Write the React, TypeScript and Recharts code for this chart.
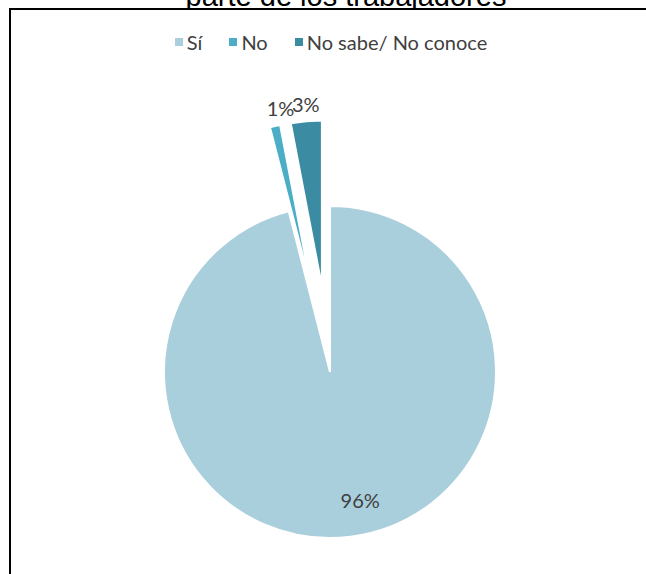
import React from "react";
import { PieChart, Pie, Cell, Legend } from "recharts";

// datos del gráfico
const categorias = ["Sí", "No", "No sabe/ No conoce"];
const valores = [96, 1, 3];
const colores = ["#AACFDC", "#4BADC6", "#3B8BA2"];
const separacion = [0, 86, 86];
const titulo = "parte de los trabajadores";

const datos = categorias.map((name, i) => ({ name, value: valores[i] }));
const total = valores.reduce((a, b) => a + b, 0);

const RAD = Math.PI / 180;
const CX = 330;
const CY = 372;
const R = 166;
const FUENTE = "Lato, 'Open Sans', sans-serif";
// ajuste fino de cada etiqueta (px)
const ajusteEtiqueta = [
  { x: 14, y: 0 },
  { x: 9, y: -2 },
  { x: 1, y: -1 },
];

// desplazamiento de cada porción separada, según su ángulo medio
function desplazamiento(i: number) {
  const antes = valores.slice(0, i).reduce((a, b) => a + b, 0);
  const medio = ((antes + valores[i] / 2) / total) * 360;
  return {
    dx: Math.sin(medio * RAD) * separacion[i],
    dy: -Math.cos(medio * RAD) * separacion[i],
  };
}

const renderEtiqueta = (idx: number) => (props: any) => {
  if (props.index !== idx) return null;
  const { cx, cy, midAngle, outerRadius, percent } = props;
  const dentro = separacion[idx] === 0;
  const r = dentro ? outerRadius * 0.78 : outerRadius + 16;
  const x = cx + r * Math.cos(-midAngle * RAD) + ajusteEtiqueta[idx].x;
  const y = cy + r * Math.sin(-midAngle * RAD) + ajusteEtiqueta[idx].y;
  return (
    <text
      x={x}
      y={y}
      fill="#404040"
      fontSize={20}
      fontFamily={FUENTE}
      textAnchor="middle"
      dominantBaseline="central"
    >
      {`${Math.round(percent * 100)}%`}
    </text>
  );
};

const renderLeyenda = (props: any) => {
  const vistos = new Set<string>();
  (props.payload || []).forEach((e: any) => vistos.add(e.value));
  const items = categorias.filter((c) => vistos.has(c));
  return (
    <div
      style={{
        display: "flex",
        justifyContent: "center",
        gap: 27,
        fontFamily: FUENTE,
        fontSize: 20,
        color: "#404040",
        whiteSpace: "nowrap",
      }}
    >
      {items.map((nombre) => {
        const i = categorias.indexOf(nombre);
        return (
          <div key={nombre} style={{ display: "flex", alignItems: "center" }}>
            <span style={{ display: "inline-block", width: 8, height: 8, background: colores[i], marginRight: 4 }} />
            <span>{nombre}</span>
          </div>
        );
      })}
    </div>
  );
};

export default function App() {
  return (
    <div style={{ position: "fixed", left: 0, top: 0, width: 646, height: 574, overflow: "hidden", background: "#fff" }}>
      <svg width={646} height={40} style={{ position: "absolute", left: 0, top: 0 }}>
        <text x={346} y={6} textAnchor="middle" fontSize={29} fontFamily="'Liberation Sans', Arial, sans-serif" fill="#000">
          {titulo}
        </text>
      </svg>
      <div
        style={{
          position: "absolute",
          left: 9,
          top: 8,
          width: 700,
          height: 700,
          borderLeft: "2px solid #000",
          borderTop: "2px solid #000",
          background: "#fff",
        }}
      />
      <div style={{ position: "absolute", left: 0, top: 0 }}>
        <PieChart width={646} height={574} margin={{ top: 0, right: 0, bottom: 0, left: 0 }}>
          <Legend
            verticalAlign="middle"
            align="center"
            layout="horizontal"
            content={renderLeyenda}
            wrapperStyle={{ top: 30, left: 8, width: 646 }}
          />
          {categorias.map((cat, i) => {
            const { dx, dy } = desplazamiento(i);
            return (
              <Pie
                key={cat}
                data={datos}
                dataKey="value"
                nameKey="name"
                cx={CX + dx}
                cy={CY + dy}
                outerRadius={R}
                startAngle={90}
                endAngle={-270}
                isAnimationActive={false}
                legendType={i === 0 ? "square" : "none"}
                label={renderEtiqueta(i)}
                labelLine={false}
              >
                {datos.map((d, j) => (
                  <Cell
                    key={d.name}
                    fill={j === i ? colores[j] : "none"}
                    stroke={j === i ? "#fff" : "none"}
                    strokeWidth={2}
                  />
                ))}
              </Pie>
            );
          })}
        </PieChart>
      </div>
    </div>
  );
}
